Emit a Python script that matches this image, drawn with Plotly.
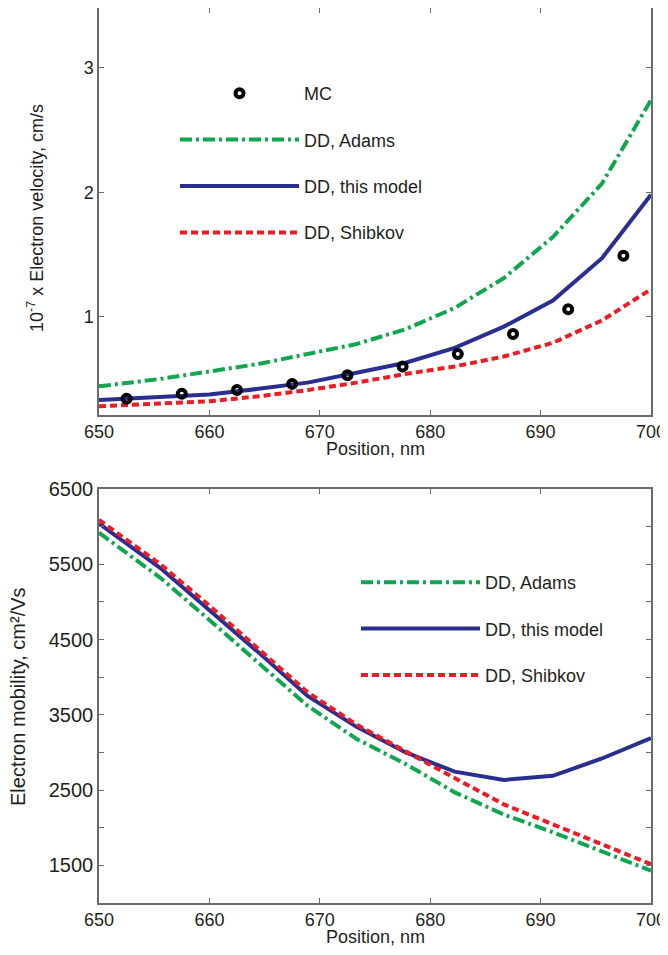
import plotly.graph_objects as go

# ---------------- data ----------------
x_grid = [650, 655.56, 660, 664.44, 668.89, 673.33, 677.78, 682.22, 686.67, 691.11, 695.56, 700]

vel_adams   = [0.44, 0.50, 0.56, 0.62, 0.70, 0.78, 0.90, 1.07, 1.31, 1.64, 2.07, 2.74]
vel_model   = [0.33, 0.355, 0.375, 0.42, 0.47, 0.55, 0.63, 0.75, 0.92, 1.13, 1.47, 1.98]
vel_shibkov = [0.28, 0.30, 0.32, 0.36, 0.41, 0.47, 0.54, 0.60, 0.68, 0.79, 0.97, 1.22]

mc_x = [652.5, 657.5, 662.5, 667.5, 672.5, 677.5, 682.5, 687.5, 692.5, 697.5]
mc_v = [0.34, 0.38, 0.41, 0.46, 0.53, 0.60, 0.70, 0.86, 1.06, 1.49]

mob_adams   = [5920, 5320, 4760, 4190, 3620, 3180, 2845, 2470, 2175, 1940, 1680, 1430]
mob_model   = [6040, 5450, 4890, 4330, 3750, 3340, 3000, 2745, 2635, 2690, 2920, 3190]
mob_shibkov = [6090, 5500, 4950, 4380, 3800, 3370, 3010, 2660, 2310, 2045, 1780, 1515]

names = ["MC", "DD, Adams", "DD, this model", "DD, Shibkov"]

x_ticks = [650, 660, 670, 680, 690, 700]
v_ticks = [1, 2, 3]
mob_ticks = [1500, 2500, 3500, 4500, 5500, 6500]
mob_minor_step = 500

# ---------------- style ----------------
GREEN = "#12a550"
BLUE = "#2a2f8f"
RED = "#ec1c24"
AXIS = "#6b6b6b"
TEXT = "#231f20"
FONT = "Liberation Sans, Arial, sans-serif"

# the page body adds an 8 px offset; positions below are given in window pixels
OFF = 8
W, H = 668 - OFF, 955 - OFF


def fx(px):
    return (px - OFF) / W


def fy(py):
    return 1 - (py - OFF) / H


xdom = [fx(99), fx(651)]
ydom_top = [fy(415), fy(8)]
ydom_bot = [fy(903), fy(489)]

dash_adams = "12px,4px,3px,4px"
dash_shib = "7px,4px"

fig = go.Figure()

line_specs = [
    (names[1], vel_adams, mob_adams, GREEN, dash_adams),
    (names[2], vel_model, mob_model, BLUE, "solid"),
    (names[3], vel_shibkov, mob_shibkov, RED, dash_shib),
]
for i, (nm, vv, mm, col, dash) in enumerate(line_specs):
    fig.add_trace(go.Scatter(
        x=x_grid, y=vv, mode="lines", name=nm,
        line=dict(color=col, width=4, dash=dash),
        xaxis="x", yaxis="y", legend="legend",
        legendgroup="t%d" % i, legendrank=i + 2))
fig.add_trace(go.Scatter(
    x=mc_x, y=mc_v, mode="markers", name=names[0],
    marker=dict(symbol="circle-open", size=8, color="black", line=dict(width=4, color="black")),
    xaxis="x", yaxis="y", legend="legend", legendgroup="mc", legendrank=1))

for i, (nm, vv, mm, col, dash) in enumerate(line_specs):
    fig.add_trace(go.Scatter(
        x=x_grid, y=mm, mode="lines", name=nm,
        line=dict(color=col, width=4, dash=dash),
        xaxis="x2", yaxis="y2", legend="legend2",
        legendgroup="b%d" % i, legendrank=i + 1))

axis_common = dict(
    showline=True, linecolor=AXIS, linewidth=1.5, mirror="allticks",
    ticks="inside", ticklen=5, tickcolor=AXIS, tickwidth=1,
    showgrid=False, zeroline=False, automargin=False,
    tickfont=dict(family=FONT, size=18, color=TEXT),
)

fig.update_layout(
    template="none",
    width=W, height=H,
    margin=dict(l=0, r=0, t=0, b=0, pad=0, autoexpand=False),
    paper_bgcolor="white", plot_bgcolor="white",
    font=dict(family=FONT, color=TEXT),
    xaxis=dict(domain=xdom, range=[650, 700], tickvals=x_ticks, anchor="y", **axis_common),
    yaxis=dict(domain=ydom_top, range=[0.21, 3.48], tickvals=v_ticks, anchor="x", **axis_common),
    xaxis2=dict(domain=xdom, range=[650, 700], tickvals=x_ticks, anchor="y2", **axis_common),
    yaxis2=dict(domain=ydom_bot, range=[1000, 6500], tickvals=mob_ticks,
                minor=dict(tick0=1000, dtick=mob_minor_step, ticks="inside", ticklen=5,
                           tickcolor=AXIS, tickwidth=1, showgrid=False),
                anchor="x2", **{**axis_common, "tickfont": dict(family=FONT, size=20, color=TEXT)}),
    legend=dict(x=fx(175), y=fy(75), xanchor="left", yanchor="top",
                bgcolor="rgba(0,0,0,0)", font=dict(family=FONT, size=18, color=TEXT),
                itemwidth=119, tracegroupgap=20, traceorder="grouped"),
    legend2=dict(x=fx(356), y=fy(564), xanchor="left", yanchor="top",
                 bgcolor="rgba(0,0,0,0)", font=dict(family=FONT, size=18, color=TEXT),
                 itemwidth=119, tracegroupgap=20, traceorder="grouped"),
    showlegend=True,
)

annots = [
    dict(text="10<sup>-7</sup> x Electron velocity, cm/s", x=fx(36), y=fy(218), textangle=-90, size=18),
    dict(text="Position, nm", x=fx(375), y=fy(449), size=18),
    dict(text="Electron mobility, cm²/Vs", x=fx(18), y=fy(697), textangle=-90, size=20),
    dict(text="Position, nm", x=fx(375), y=fy(937), size=18),
]
for a in annots:
    fig.add_annotation(xref="paper", yref="paper", showarrow=False,
                       xanchor="center", yanchor="middle",
                       font=dict(family=FONT, color=TEXT, size=a["size"]),
                       text=a["text"], x=a["x"], y=a["y"], textangle=a.get("textangle", 0))

fig.write_html("out.html")
